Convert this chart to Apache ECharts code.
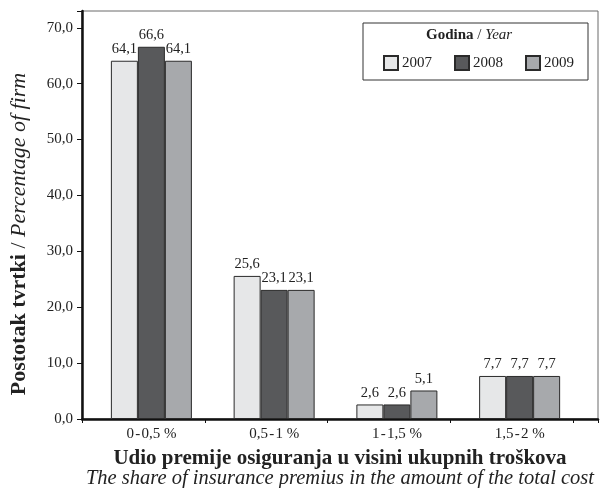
<!DOCTYPE html>
<html>
<head>
<meta charset="utf-8">
<script src="https://cdn.jsdelivr.net/npm/echarts@6/dist/echarts.min.js"></script>
<style>html,body{margin:0;padding:0;background:#fff}#c{width:600px;height:488px}</style>
</head>
<body>
<div id="c"></div>
<script>
const categories = ['0\u200A-\u200A0,5 %', '0,5\u200A-\u200A1 %', '1\u200A-\u200A1,5 %', '1,5\u200A-\u200A2 %'];
const years = ['2007', '2008', '2009'];
const values2007 = [64.1, 25.6, 2.6, 7.7];
const values2008 = [66.6, 23.1, 2.6, 7.7];
const values2009 = [64.1, 23.1, 5.1, 7.7];
const yTicks = [0, 10, 20, 30, 40, 50, 60, 70];
const colors = ['#e6e7e8', '#58595b', '#a7a9ac'];

const FONT = 'Liberation Serif';
const fmt = v => v.toFixed(1).replace('.', ',');

const chart = echarts.init(document.getElementById('c'), null, {renderer: 'canvas'});
const seriesData = [values2007, values2008, values2009];

chart.setOption({
  animation: false,
  backgroundColor: '#fff',
  textStyle: {fontFamily: FONT},
  title: {
    left: 426, top: 28, padding: 0,
    text: '{b|Godina} / {i|Year}',
    textStyle: {
      fontFamily: FONT, fontSize: 15, fontWeight: 'normal', color: '#222',
      rich: {
        b: {fontFamily: FONT, fontSize: 15, fontWeight: 'bold', color: '#222'},
        i: {fontFamily: FONT, fontSize: 15, fontStyle: 'italic', color: '#222'}
      }
    }
  },
  legend: {
    left: 363, top: 23,
    padding: [32, 14, 9, 20],
    borderColor: '#333', borderWidth: 1,
    itemWidth: 14, itemHeight: 14, itemGap: 22,
    icon: 'rect',
    data: years,
    textStyle: {fontFamily: FONT, fontSize: 15, color: '#222', padding: [0, 0, 0, -1]}
  },
  grid: [
    {left: 82, right: 2, top: 11, bottom: 69, containLabel: false, outerBoundsMode: 'none',
     show: true, borderColor: '#6b6b6b', borderWidth: 1, backgroundColor: 'transparent'},
    {left: 90, width: 491, top: 11, bottom: 69, containLabel: false, outerBoundsMode: 'none'}
  ],
  xAxis: [
    {
      gridIndex: 0, type: 'value', min: 0, max: 4.2, interval: 1,
      axisLine: {show: true, lineStyle: {color: '#111', width: 2.5}},
      axisTick: {show: true, length: 4, lineStyle: {color: '#111', width: 1}},
      axisLabel: {show: false},
      splitLine: {show: false},
      name: '{b|Udio premije osiguranja u visini ukupnih troškova}\n{i|The share of insurance premius in the amount of the total cost}',
      nameLocation: 'middle', nameGap: 30,
      nameTextStyle: {
        fontFamily: FONT, color: '#222',
        rich: {
          b: {fontFamily: FONT, fontSize: 21, fontWeight: 'bold', color: '#222', lineHeight: 20, align: 'center'},
          i: {fontFamily: FONT, fontSize: 20.5, fontStyle: 'italic', color: '#222', lineHeight: 20, align: 'center'}
        }
      }
    },
    {
      gridIndex: 1, type: 'category', data: categories,
      axisLine: {show: false}, axisTick: {show: false},
      axisLabel: {fontFamily: FONT, fontSize: 15, color: '#222', margin: 8}
    }
  ],
  yAxis: [
    {
      gridIndex: 0, type: 'value', min: 0, max: 73, interval: 10,
      axisLine: {show: true, lineStyle: {color: '#111', width: 2.5}},
      axisTick: {show: true, length: 5, lineStyle: {color: '#111', width: 1}},
      splitLine: {show: false},
      axisLabel: {
        fontFamily: FONT, fontSize: 15, color: '#222', margin: 9,
        formatter: v => (yTicks.indexOf(v) >= 0 ? fmt(v) : '')
      },
      name: '{b|Postotak tvrtki} / {i|Percentage of firm}',
      nameLocation: 'middle', nameGap: 52,
      nameTextStyle: {
        fontFamily: FONT, fontSize: 22, color: '#222',
        padding: [0, 38, 0, 0],
        rich: {
          b: {fontFamily: FONT, fontSize: 22, fontWeight: 'bold', color: '#222'},
          i: {fontFamily: FONT, fontSize: 22, fontStyle: 'italic', color: '#222'}
        }
      }
    },
    {
      gridIndex: 1, type: 'value', min: 0, max: 73, interval: 10, show: false
    }
  ],
  series: years.map((y, i) => ({
    name: y, type: 'bar', xAxisIndex: 1, yAxisIndex: 1,
    data: seriesData[i],
    barWidth: 27, barGap: '0%',
    itemStyle: {color: colors[i], borderColor: '#2a2a2a', borderWidth: 1},
    label: {
      show: true, position: 'top', distance: 4,
      fontFamily: FONT, fontSize: 14.5, color: '#222',
      formatter: p => fmt(p.value)
    }
  }))
});
</script>
</body>
</html>
